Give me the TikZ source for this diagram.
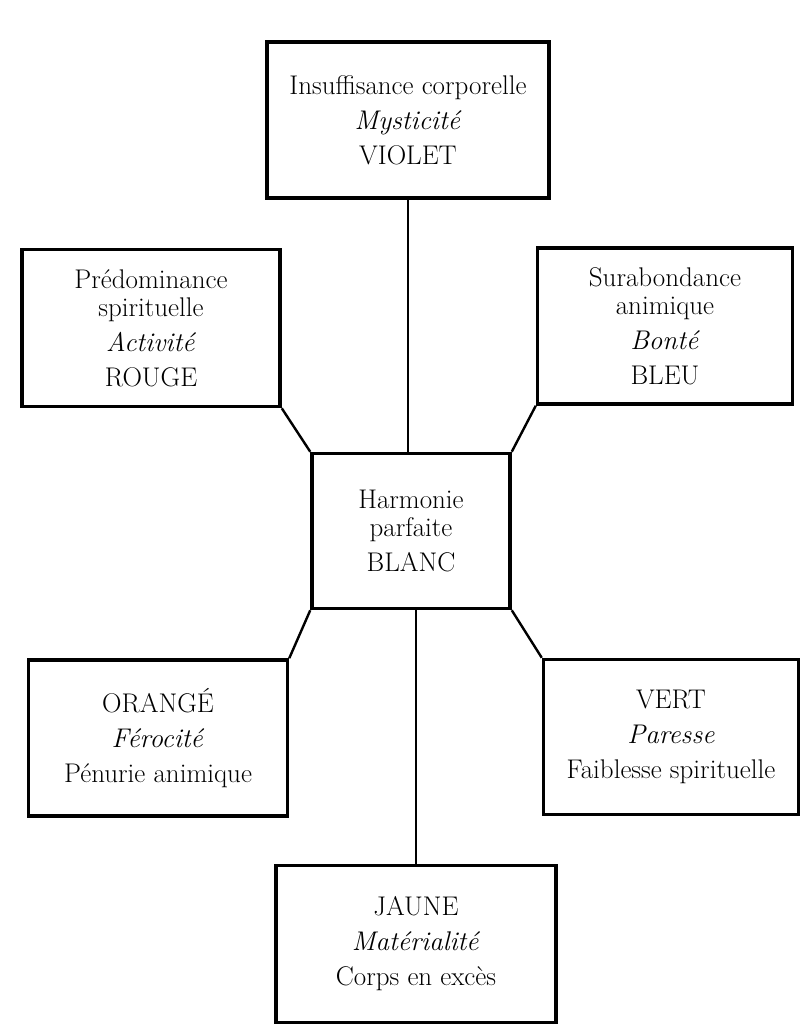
\documentclass[tikz,border=0pt]{standalone}
\usepackage{tikz}

\begin{document}
\begin{tikzpicture}[x=1pt, y=-1pt,
    box/.style={draw, line width=3.5pt, align=center, inner sep=0pt,
      font=\fontsize{27}{28}\selectfont},
    link/.style={line width=2.4pt}]
  \useasboundingbox (0, 0) rectangle (805, 1024);

  % Top
  \node [box, minimum width=282pt, minimum height=156pt] (violet) at (408, 120)
    {Insuffisance corporelle\\[7pt] \textit{Mysticité}\\[7pt] VIOLET};

  % Upper pair
  \node [box, minimum width=258pt, minimum height=157pt] (rouge) at (151, 328)
    {Prédominance\\ spirituelle\\[7pt] \textit{Activité}\\[7pt] ROUGE};
  \node [box, minimum width=255pt, minimum height=156pt] (bleu) at (665, 326)
    {Surabondance\\ animique\\[7pt] \textit{Bonté}\\[7pt] BLEU};

  % Centre
  \node [box, minimum width=198pt, minimum height=155pt] (blanc) at (411, 531)
    {Harmonie\\ parfaite\\[7pt] BLANC};

  % Lower pair
  \node [box, minimum width=259pt, minimum height=156pt] (orange) at (158, 738)
    {ORANGÉ\\[7pt] \textit{Férocité}\\[7pt] Pénurie animique};
  \node [box, minimum width=255pt, minimum height=155pt] (vert) at (671, 737)
    {VERT\\[7pt] \textit{Paresse}\\[7pt] Faiblesse spirituelle};

  % Bottom
  \node [box, minimum width=280pt, minimum height=157pt] (jaune) at (416, 944)
    {JAUNE\\[7pt] \textit{Matérialité}\\[7pt] Corps en excès};

  % Links
  \draw [link] (violet.south) -- (violet.south |- blanc.north);
  \draw [link] (rouge.south east) -- (blanc.north west);
  \draw [link] (bleu.south west) -- (blanc.north east);
  \draw [link] (blanc.south west) -- (orange.north east);
  \draw [link] (blanc.south east) -- (vert.north west);
  \draw [link] (jaune.north |- blanc.south) -- (jaune.north);
\end{tikzpicture}
\end{document}
